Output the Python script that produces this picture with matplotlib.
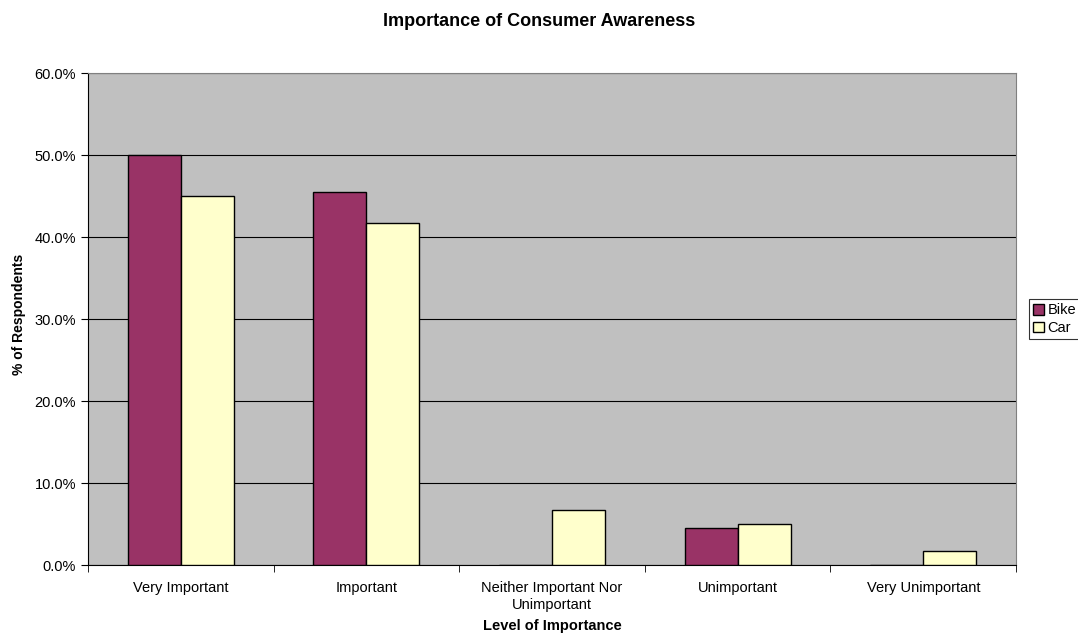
import matplotlib
matplotlib.use("Agg")
import matplotlib.pyplot as plt
from matplotlib.ticker import FuncFormatter, FixedLocator
import numpy as np

plt.rcParams["font.family"] = ["Liberation Sans", "DejaVu Sans"]

categories = ["Very Important", "Important", "Neither Important Nor\nUnimportant",
              "Unimportant", "Very Unimportant"]
bike = [50.0, 45.5, 0.0, 4.5, 0.0]
car = [45.0, 41.7, 6.7, 5.0, 1.7]

fig = plt.figure(figsize=(10.78, 6.42), dpi=100)
ax = fig.add_axes([0.0816, 0.1195, 0.861, 0.7664])
ax.set_facecolor("#c0c0c0")

x = np.arange(len(categories))
w = 1 / 3.5
ax.bar(x - w / 2, bike, w, color="#993366", edgecolor="black", linewidth=1, label="Bike", zorder=3)
ax.bar(x + w / 2, car, w, color="#ffffcc", edgecolor="black", linewidth=1, label="Car", zorder=3)

ax.set_xlim(-0.5, len(categories) - 0.5)
ax.set_ylim(0, 60)
ax.set_yticks(np.arange(0, 61, 10))
ax.yaxis.set_major_formatter(FuncFormatter(lambda v, p: f"{v:.1f}%"))
ax.yaxis.grid(True, color="black", linewidth=0.8, zorder=1)

# category labels centred, tick marks between categories
ax.set_xticks(x)
ax.set_xticklabels(categories, fontsize=10.5, linespacing=1.3)
ax.tick_params(axis="x", length=0, pad=11)
ax.xaxis.set_minor_locator(FixedLocator(np.arange(-0.5, len(categories), 1)))
ax.tick_params(axis="x", which="minor", length=5, color="black")
ax.tick_params(axis="y", labelsize=10.5, length=5, direction="out")

for s in ["top", "right"]:
    ax.spines[s].set_color("#808080")
for s in ["left", "bottom"]:
    ax.spines[s].set_color("black")

ax.set_xlabel("Level of Importance", fontsize=10.5, fontweight="bold", labelpad=5)
ax.set_ylabel("% of Respondents", fontsize=10, fontweight="bold")
ax.yaxis.set_label_coords(-0.067, 0.51)
fig.suptitle("Importance of Consumer Awareness", fontsize=13, fontweight="bold", y=0.967,
             va="center")

leg = ax.legend(loc="center left", bbox_to_anchor=(1.014, 0.5), fontsize=10.5, frameon=True,
                fancybox=False, edgecolor="black", handlelength=0.75, handleheight=0.75,
                handletextpad=0.2, borderpad=0.3, labelspacing=0.25, borderaxespad=0)
leg.get_frame().set_linewidth(0.8)

fig.savefig("out.png", dpi=100)
